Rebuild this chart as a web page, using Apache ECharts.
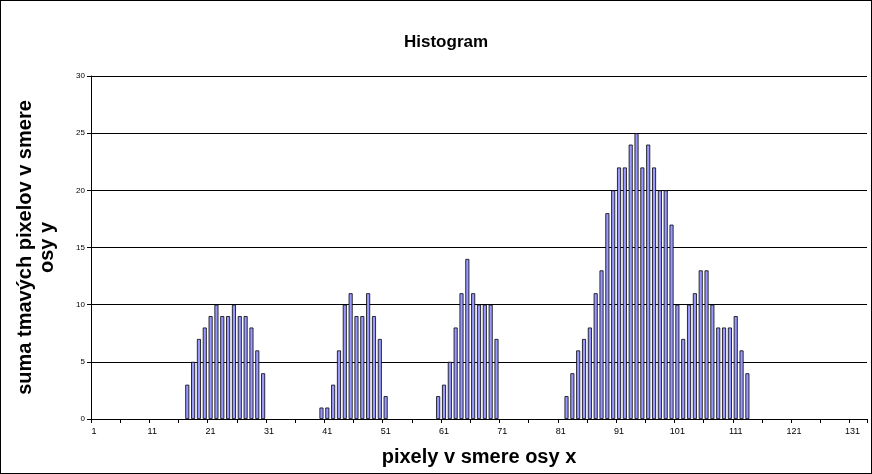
<!DOCTYPE html>
<html>
<head>
<meta charset="utf-8">
<script src="https://cdn.jsdelivr.net/npm/echarts@6/dist/echarts.min.js"></script>
<style>
html,body{margin:0;padding:0;background:#fff;}
#c{width:872px;height:474px;box-sizing:border-box;border:1px solid #000;}
</style>
</head>
<body>
<div id="c"></div>
<script>
// x-axis categories (pixel index)
const categories = [
  1,2,3,4,5,6,7,8,9,10,11,12,13,14,15,16,17,18,19,20,
  21,22,23,24,25,26,27,28,29,30,31,32,33,34,35,36,37,38,39,40,
  41,42,43,44,45,46,47,48,49,50,51,52,53,54,55,56,57,58,59,60,
  61,62,63,64,65,66,67,68,69,70,71,72,73,74,75,76,77,78,79,80,
  81,82,83,84,85,86,87,88,89,90,91,92,93,94,95,96,97,98,99,100,
  101,102,103,104,105,106,107,108,109,110,111,112,113,114,115,116,117,118,119,120,
  121,122,123,124,125,126,127,128,129,130,131,132,133
];
// sum of dark pixels per column
const values = [
  0,0,0,0,0,0,0,0,0,0,0,0,0,0,0,0,3,5,7,8,
  9,10,9,9,10,9,9,8,6,4,0,0,0,0,0,0,0,0,0,1,
  1,3,6,10,11,9,9,11,9,7,2,0,0,0,0,0,0,0,0,2,
  3,5,8,11,14,11,10,10,10,7,0,0,0,0,0,0,0,0,0,0,
  0,2,4,6,7,8,11,13,18,20,22,22,24,25,22,24,22,20,20,17,
  10,7,10,11,13,13,10,8,8,8,9,6,4,0,0,0,0,0,0,0,
  0,0,0,0,0,0,0,0,0,0,0,0,0
];
const yTicks = [0,5,10,15,20,25,30];

const font = 'Liberation Sans, Arial, sans-serif';
const chart = echarts.init(document.getElementById('c'));
chart.setOption({
  animation: false,
  backgroundColor: '#fff',
  title: {
    text: 'Histogram', left: 398, top: 28,
    textStyle: {fontFamily: font, fontSize: 17, fontWeight: 'bold', color: '#000'}
  },
  grid: {left: 90, right: 4, top: 75, bottom: 54, containLabel: false, outerBoundsMode: 'none'},
  xAxis: {
    type: 'category', data: categories, boundaryGap: true,
    name: 'pixely v smere osy x', nameLocation: 'middle', nameGap: 28,
    nameTextStyle: {fontFamily: font, fontSize: 20, fontWeight: 'bold', color: '#000'},
    axisLine: {lineStyle: {color: '#000', width: 1}},
    axisTick: {show: true, interval: 4, alignWithLabel: false, length: 4, lineStyle: {color: '#000'}},
    axisLabel: {interval: 9, fontFamily: font, fontSize: 9, color: '#000', margin: 8},
    splitLine: {show: false}
  },
  yAxis: {
    type: 'value', min: yTicks[0], max: yTicks[yTicks.length-1], interval: 5,
    name: 'suma tmavých pixelov v smere\nosy y', nameLocation: 'middle', nameGap: 33,
    nameTextStyle: {fontFamily: font, fontSize: 20, fontWeight: 'bold', color: '#000', lineHeight: 22},
    axisLine: {show: true, lineStyle: {color: '#000', width: 1}},
    axisTick: {show: true, length: 4, lineStyle: {color: '#000'}},
    axisLabel: {fontFamily: font, fontSize: 8, color: '#000', margin: 6},
    splitLine: {show: true, lineStyle: {color: '#000', width: 1}}
  },
  series: [{
    type: 'bar', data: values.map(v => v === 0 ? '-' : v), barWidth: 4,
    itemStyle: {color: '#9999FF', borderColor: '#000', borderWidth: 0.8}
  }]
});
</script>
</body>
</html>
